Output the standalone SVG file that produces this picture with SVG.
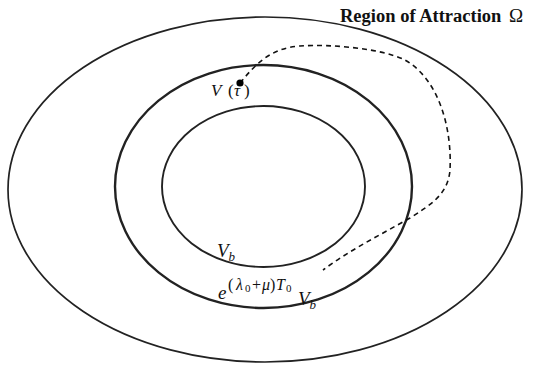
<svg xmlns="http://www.w3.org/2000/svg" width="533" height="371" viewBox="0 0 533 371">
<style>
.reg{fill:none;stroke:#222}
.m{font-family:"Liberation Serif","DejaVu Serif",serif;font-style:italic;fill:#111}
.up{font-style:normal}
</style>
<rect width="533" height="371" fill="#fff"/>
<g id="omega">
<ellipse class="reg" cx="265" cy="189.5" rx="257" ry="172.5" stroke-width="1.7" stroke="#333"/>
<text x="340" y="22" font-family="Liberation Serif,serif" font-weight="bold" font-size="18.5" fill="#111">Region of Attraction</text>
<text x="509" y="22" font-family="Liberation Serif,serif" font-size="19" fill="#111">Ω</text>
</g>
<g id="level-outer">
<ellipse class="reg" cx="263.5" cy="186.5" rx="148.5" ry="121.5" stroke-width="2.4" stroke="#111"/>
<text class="m" x="218" y="299" font-size="19">e</text>
<text class="m" y="290" font-size="16"><tspan class="up" x="228">(</tspan><tspan x="236">λ</tspan><tspan class="up" x="245" font-size="11" dy="2">0</tspan><tspan class="up" x="252" dy="-2">+</tspan><tspan x="262">μ</tspan><tspan class="up" x="270">)</tspan><tspan x="276">T</tspan><tspan class="up" x="286" font-size="11" dy="2">0</tspan></text>
<text class="m" x="298" y="305" font-size="19">V<tspan font-size="13" dy="4">b</tspan></text>
</g>
<g id="level-inner">
<ellipse class="reg" cx="263.5" cy="186.5" rx="101.5" ry="80.5" stroke-width="1.9"/>
<text class="m" x="217" y="257" font-size="19">V<tspan font-size="13" dy="4">b</tspan></text>
</g>
<g id="trajectory">
<path d="M240,83 C255,65 270,48 300,46 C330,44 380,48 405,60 C440,80 452,130 450,170 C448,195 430,205 410,218 C380,235 350,250 323,270" fill="none" stroke="#111" stroke-width="1.6" stroke-dasharray="5,4"/>
<circle cx="240" cy="83" r="3.6" fill="#000"/>
<text class="m" y="96" font-size="17"><tspan x="211">V</tspan><tspan class="up" x="228">(</tspan><tspan x="234">τ</tspan><tspan class="up" x="244">)</tspan></text>
</g>
</svg>
